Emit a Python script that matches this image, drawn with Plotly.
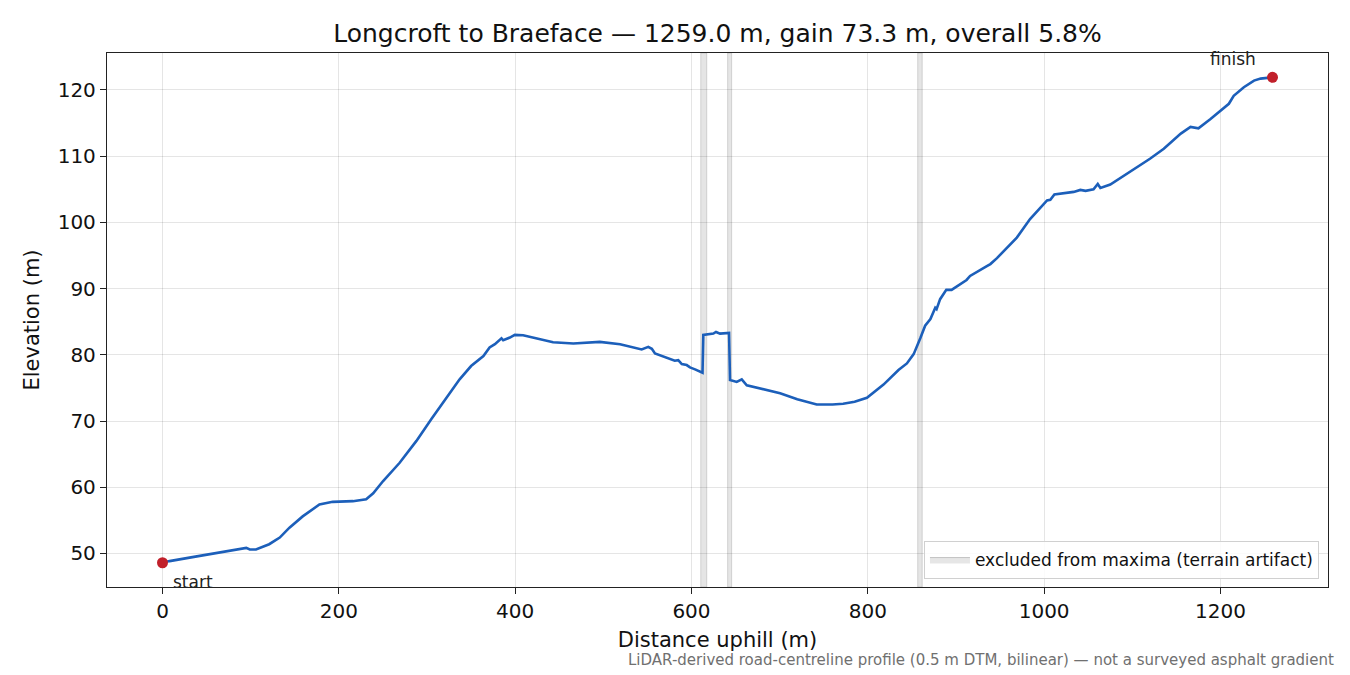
import plotly.graph_objects as go

dist = [0, 8, 34, 61, 91, 95, 99, 106, 121, 133, 144, 159, 178, 193, 216, 231, 239, 250,
        269, 288, 305, 322, 337, 350, 364, 371, 377, 384.5, 386.4, 394, 399.6, 409, 424,
        443, 466, 496, 519, 543.5, 551, 555, 558.6, 572, 581, 585, 589, 594.6, 598.3, 604,
        610.5, 612.5, 613.4, 624.8, 627.8, 632.4, 642.6, 643.7, 651.3, 657, 662.7, 680,
        700.5, 720, 742, 760, 772, 785, 799, 817.8, 834.8, 844.3, 852, 859.5, 865, 871,
        876.5, 878, 882, 889, 895, 912, 916, 935, 939, 946.5, 969, 984, 999.4, 1003.3,
        1007, 1011.6, 1033.5, 1041, 1047, 1056, 1060.8, 1063.8, 1075, 1086.5, 1105.5,
        1120, 1135.7, 1150.9, 1155, 1166, 1175, 1188.7, 1200, 1209.5, 1215, 1226.5, 1238,
        1245.5, 1259]
elev = [48.6, 48.85, 49.45, 50.1, 50.75, 50.85, 50.6, 50.6, 51.4, 52.4, 53.9, 55.6, 57.4,
        57.8, 57.9, 58.2, 59.1, 60.9, 63.7, 67.0, 70.3, 73.5, 76.3, 78.3, 79.8, 81.1, 81.6,
        82.5, 82.2, 82.6, 83.0, 82.95, 82.5, 81.9, 81.7, 81.95, 81.6, 80.8, 81.2, 80.9,
        80.2, 79.5, 79.1, 79.2, 78.6, 78.45, 78.1, 77.8, 77.5, 77.3, 83.0, 83.2, 83.45,
        83.2, 83.3, 76.2, 75.9, 76.3, 75.4, 74.8, 74.2, 73.3, 72.5, 72.5, 72.6, 72.9, 73.5,
        75.5, 77.7, 78.7, 80.1, 82.5, 84.4, 85.4, 87.1, 86.9, 88.4, 89.8, 89.8, 91.3, 91.9,
        93.4, 93.7, 94.6, 97.7, 100.5, 102.8, 103.3, 103.4, 104.2, 104.6, 104.9, 104.75,
        105.0, 105.8, 105.2, 105.7, 106.7, 108.3, 109.6, 111.1, 112.9, 113.4, 114.4, 114.2,
        115.6, 116.9, 117.9, 119.1, 120.4, 121.4, 121.7, 121.9]

excluded_start = [610.5, 641.0, 856.6]
excluded_end = [617.3, 645.5, 861.7]

x_ticks = [0, 200, 400, 600, 800, 1000, 1200]
y_ticks = [50, 60, 70, 80, 90, 100, 110, 120]

title = "Longcroft to Braeface \u2014 1259.0 m, gain 73.3 m, overall 5.8%"
footnote = ("LiDAR-derived road-centreline profile (0.5 m DTM, bilinear) \u2014 "
            "not a surveyed asphalt gradient")

FONT = "DejaVu Sans"
LINE = "#1c5fba"
RED = "#c1202b"

fig = go.Figure()

shapes = []
for s, e in zip(excluded_start, excluded_end):
    shapes.append(dict(type="rect", xref="x", yref="paper", x0=s, x1=e, y0=0, y1=1,
                       fillcolor="rgba(160,160,160,0.28)",
                       line=dict(color="rgba(150,150,150,0.35)", width=1), layer="below"))

# legend proxy for excluded bands
fig.add_trace(go.Scatter(x=[None], y=[None], mode="lines", fill="toself",
                         fillcolor="rgba(200,200,200,0.45)",
                         line=dict(color="rgba(150,150,150,0.5)", width=1),
                         name="excluded from maxima (terrain artifact)", showlegend=True))

fig.add_trace(go.Scatter(x=dist, y=elev, mode="lines", line=dict(color=LINE, width=2.6),
                         showlegend=False, hoverinfo="x+y"))

fig.add_trace(go.Scatter(x=[dist[0], dist[-1]], y=[elev[0], elev[-1]], mode="markers",
                         marker=dict(color=RED, size=11), showlegend=False))

annotations = [
    dict(x=dist[0], y=elev[0], text="start", showarrow=False, xanchor="left",
         yanchor="middle", xshift=8, yshift=-19, font=dict(family=FONT, size=17, color="#222")),
    dict(x=dist[-1], y=elev[-1], text="finish", showarrow=False, xanchor="center",
         yanchor="middle", xshift=-40, yshift=18, font=dict(family=FONT, size=17, color="#222")),
    dict(x=1, y=0, xref="paper", yref="paper", text=footnote, showarrow=False,
         xanchor="right", yanchor="middle", xshift=8, yshift=-73,
         font=dict(family=FONT, size=15, color="#707070")),
]

axis_common = dict(showline=True, linecolor="#222", linewidth=1.3, mirror=True,
                   ticks="outside", ticklen=6, tickwidth=1.2, tickcolor="#222",
                   showgrid=True, gridcolor="rgba(0,0,0,0.1)", gridwidth=1.2, zeroline=False,
                   tickfont=dict(family=FONT, size=20, color="#111"))

fig.update_layout(
    width=1350, height=675,
    paper_bgcolor="white", plot_bgcolor="white",
    margin=dict(l=99, r=30, t=45, b=96),
    title=dict(text=title, x=0.5, xref="paper", xanchor="center", y=0.963, yanchor="middle",
               font=dict(family=FONT, size=25, color="#111")),
    xaxis=dict(range=[-62.95, 1321.95], tickvals=x_ticks,
               title=dict(text="Distance uphill (m)", font=dict(family=FONT, size=21, color="#111"),
                          standoff=10), **axis_common),
    yaxis=dict(range=[44.94, 125.57], tickvals=y_ticks,
               title=dict(text="Elevation (m)", font=dict(family=FONT, size=21, color="#111"),
                          standoff=12), **axis_common),
    shapes=shapes,
    annotations=annotations,
    legend=dict(x=0.9926, y=0.015, xanchor="right", yanchor="bottom",
                bgcolor="rgba(255,255,255,0.85)", bordercolor="#d0d0d0", borderwidth=1,
                itemwidth=40, tracegroupgap=0,
                font=dict(family=FONT, size=17, color="#111")),
    font=dict(family=FONT),
)

fig.write_html("out.html")
